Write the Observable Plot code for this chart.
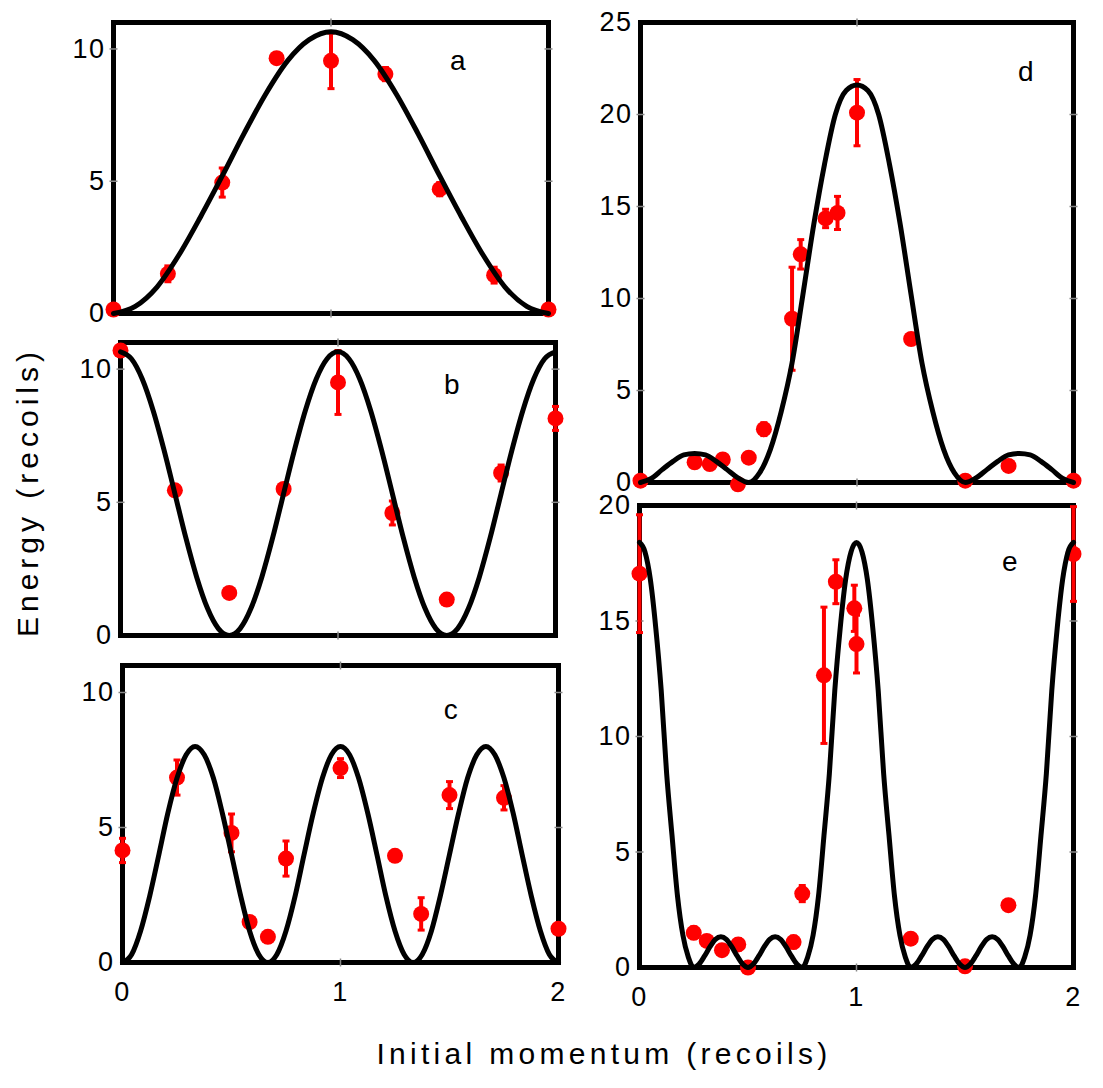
<!DOCTYPE html>
<html><head><meta charset="utf-8">
<script src="https://cdn.jsdelivr.net/npm/d3@7"></script>
<script src="https://cdn.jsdelivr.net/npm/@observablehq/plot@0.6"></script>
<style>
html,body{margin:0;padding:0;background:#fff;}
#fig{position:relative;width:1103px;height:1088px;overflow:hidden;font-family:"Liberation Sans",Arial,sans-serif;}
#fig svg{position:absolute;left:0;top:0;}
</style></head><body><div id="fig"></div>
<script>
// ---------- data ----------
const xTicks = [0, 1, 2];
const yTicksSmall = [0, 5, 10];
const yTicksD = [0, 5, 10, 15, 20, 25];
const yTicksE = [0, 5, 10, 15, 20];
const panelLabels = ["a", "b", "c", "d", "e"];

// measured points (x, energy, error half-width)
const aX = [0, 0.25, 0.5, 0.75, 1.0, 1.25, 1.5, 1.75, 2.0];
const aY = [0.15, 1.5, 4.95, 9.65, 9.55, 9.05, 4.7, 1.45, 0.15];
const aErr = [0, 0.3, 0.55, 0.2, 1.05, 0.25, 0.25, 0.3, 0];

const bX = [0, 0.25, 0.5, 0.75, 1.0, 1.25, 1.5, 1.75, 2.0];
const bY = [10.7, 5.45, 1.6, 5.5, 9.5, 4.6, 1.35, 6.1, 8.15];
const bErr = [0.2, 0.2, 0, 0.2, 1.2, 0.45, 0, 0.3, 0.45];

const cX = [0, 0.25, 0.5, 0.583, 0.667, 0.75, 1.0, 1.25, 1.37, 1.5, 1.75, 2.0];
const cY = [4.15, 6.85, 4.8, 1.5, 0.95, 3.85, 7.2, 3.95, 1.8, 6.2, 6.1, 1.25];
const cErr = [0.45, 0.65, 0.7, 0.2, 0.2, 0.65, 0.35, 0.2, 0.6, 0.5, 0.45, 0.2];

const dX = [0, 0.25, 0.32, 0.38, 0.45, 0.5, 0.57, 0.70, 0.74, 0.855, 0.91, 1.0, 1.25, 1.5, 1.70, 2.0];
const dY = [0.1, 1.1, 1.0, 1.25, -0.1, 1.35, 2.9, 8.9, 12.4, 14.35, 14.65, 20.1, 7.8, 0.1, 0.9, 0.1];
const dErr = [0, 0.2, 0.2, 0.2, 0.2, 0.2, 0.35, 2.8, 0.8, 0.5, 0.9, 1.8, 0.3, 0.2, 0.3, 0.2];

const eX = [0, 0.25, 0.31, 0.38, 0.455, 0.5, 0.71, 0.75, 0.85, 0.905, 0.99, 1.0, 1.25, 1.5, 1.70, 2.0];
const eY = [17.05, 1.5, 1.15, 0.75, 1.0, 0.0, 1.1, 3.2, 12.65, 16.7, 15.55, 14.0, 1.25, 0.05, 2.7, 17.9];
const eErr = [2.55, 0.25, 0.2, 0.2, 0.25, 0.2, 0.25, 0.35, 2.95, 0.95, 1.0, 1.25, 0.2, 0.2, 0.2, 2.05];

// theory curves, values
const aCurveX = [0,0.1,0.2,0.3,0.4,0.5,0.6,0.7,0.8,0.9,1.0,1.1,1.2,1.3,1.4,1.5,1.6,1.7,1.8,1.9,2.0];
const aCurveY = [0,0.27,1.0,2.2,3.65,5.2,6.8,8.3,9.55,10.35,10.65,10.35,9.55,8.3,6.8,5.2,3.65,2.2,1.0,0.27,0];

const bCurveX = [0,0.05,0.1,0.15,0.2,0.25,0.3,0.35,0.4,0.45,0.5,0.55,0.6,0.65,0.7,0.75,0.8,0.85,0.9,0.95,1.0,
                 1.05,1.1,1.15,1.2,1.25,1.3,1.35,1.4,1.45,1.5,1.55,1.6,1.65,1.7,1.75,1.8,1.85,1.9,1.95,2.0];
const bCurveY = [10.65,10.39,9.63,8.45,6.97,5.33,3.68,2.2,1.02,0.26,0,0.26,1.02,2.2,3.68,5.33,6.97,8.45,9.63,10.39,10.65,
                 10.39,9.63,8.45,6.97,5.33,3.68,2.2,1.02,0.26,0,0.26,1.02,2.2,3.68,5.33,6.97,8.45,9.63,10.39,10.65];

const cCurveX = [0,0.042,0.083,0.125,0.167,0.208,0.25,0.292,0.333,0.375,0.417,0.458,0.5,0.542,0.583,0.625,0.667,
                 0.708,0.75,0.792,0.833,0.875,0.917,0.958,1.0,1.042,1.083,1.125,1.167,1.208,1.25,1.292,1.333,
                 1.375,1.417,1.458,1.5,1.542,1.583,1.625,1.667,1.708,1.75,1.792,1.833,1.875,1.917,1.958,2.0];
const cCurveY = [0,0.3,1.17,2.47,4.0,5.53,6.83,7.69,8.0,7.69,6.83,5.53,4.0,2.47,1.17,0.3,0,
                 0.3,1.17,2.47,4.0,5.53,6.83,7.69,8.0,7.69,6.83,5.53,4.0,2.47,1.17,0.3,0,
                 0.3,1.17,2.47,4.0,5.53,6.83,7.69,8.0,7.69,6.83,5.53,4.0,2.47,1.17,0.3,0];

const dCurveX = bCurveX;
const dCurveY = [0,0.22,0.7,1.15,1.5,1.58,1.5,1.15,0.7,0.25,0,0.52,1.8,3.85,6.5,10.2,14.0,17.3,20.0,21.3,21.6,
                 21.3,20.0,17.3,14.0,10.2,6.5,3.85,1.8,0.52,0,0.25,0.7,1.15,1.5,1.58,1.5,1.15,0.7,0.22,0];

const eCurveX = [0,0.025,0.05,0.075,0.1,0.125,0.15,0.175,0.2,0.225,0.25,0.275,0.3,0.325,0.35,0.375,0.4,0.425,0.45,0.475,
                 0.5,0.525,0.55,0.575,0.6,0.625,0.65,0.675,0.7,0.725,0.75,0.775,0.8,0.825,0.85,0.875,0.9,0.925,0.95,0.975,
                 1.0,1.025,1.05,1.075,1.1,1.125,1.15,1.175,1.2,1.225,1.25,1.275,1.3,1.325,1.35,1.375,1.4,1.425,1.45,1.475,
                 1.5,1.525,1.55,1.575,1.6,1.625,1.65,1.675,1.7,1.725,1.75,1.775,1.8,1.825,1.85,1.875,1.9,1.925,1.95,1.975,2.0];
const eCurveY = [18.4,18.0,16.8,14.7,12.0,8.4,5.7,3.1,1.4,0.45,0,0.15,0.5,0.9,1.22,1.33,1.22,0.9,0.5,0.15,
                 0,0.15,0.5,0.9,1.22,1.33,1.22,0.9,0.5,0.15,0,0.45,1.4,3.1,5.7,8.4,12.0,14.7,16.8,18.0,
                 18.4,18.0,16.8,14.7,12.0,8.4,5.7,3.1,1.4,0.45,0,0.15,0.5,0.9,1.22,1.33,1.22,0.9,0.5,0.15,
                 0,0.15,0.5,0.9,1.22,1.33,1.22,0.9,0.5,0.15,0,0.45,1.4,3.1,5.7,8.4,12.0,14.7,16.8,18.0,18.4];

// ---------- layout ----------
const W = 1103, H = 1088;
const FONT = '"Liberation Sans", Arial, Helvetica, sans-serif';
const hline = {draw(ctx, size){const r = Math.sqrt(size/Math.PI); ctx.moveTo(-r,0); ctx.lineTo(r,0);}};
const vline = {draw(ctx, size){const r = Math.sqrt(size/Math.PI); ctx.moveTo(0,-r); ctx.lineTo(0,r);}};

const panels = [
  {label: panelLabels[0], px: aX, py: aY, pe: aErr, cx: aCurveX, cy: aCurveY, yDomain: [0, 11], yTicks: yTicksSmall,
   box: [113, 548, 22, 313], xAxis: false, ldx: -90, ldy: 28},
  {label: panelLabels[1], px: bX, py: bY, pe: bErr, cx: bCurveX, cy: bCurveY, yDomain: [0, 11], yTicks: yTicksSmall,
   box: [120, 555, 342, 635], xAxis: false, ldx: -103, ldy: 32},
  {label: panelLabels[2], px: cX, py: cY, pe: cErr, cx: cCurveX, cy: cCurveY, yDomain: [0, 11], yTicks: yTicksSmall,
   box: [122, 558, 665, 962], xAxis: true, ldx: -107, ldy: 34},
  {label: panelLabels[3], px: dX, py: dY, pe: dErr, cx: dCurveX, cy: dCurveY, yDomain: [0, 25], yTicks: yTicksD,
   box: [640, 1073, 22, 482], xAxis: false, ldx: -47, ldy: 39},
  {label: panelLabels[4], px: eX, py: eY, pe: eErr, cx: eCurveX, cy: eCurveY, yDomain: [0, 20], yTicks: yTicksE,
   box: [639, 1073, 505, 967], xAxis: true, ldx: -63, ldy: 46}
];

function panel(cfg){
  const pts = cfg.px.map((x, i) => ({x, y: cfg.py[i], e: cfg.pe[i]}));
  const errs = pts.filter(d => d.e > 0);
  const line = cfg.cx.map((x, i) => ({x, y: cfg.cy[i]}));
  const innerY = cfg.yTicks.filter(t => t > cfg.yDomain[0] && t < cfg.yDomain[1]);
  const innerX = xTicks.filter(t => t > 0 && t < 2);
  const tickStyle = {r: 4, stroke: "#888", strokeWidth: 1.5, fill: "none"};
  return Plot.plot({
    width: W, height: H,
    marginLeft: cfg.box[0], marginRight: W - cfg.box[1],
    marginTop: cfg.box[2], marginBottom: H - cfg.box[3],
    style: {background: "transparent", fontFamily: FONT, fontSize: "27px", letterSpacing: "1.5px", color: "black", overflow: "visible"},
    x: cfg.xAxis
      ? {domain: [0, 2], ticks: xTicks, tickSize: 0, tickPadding: 19, label: null, tickFormat: d => String(d)}
      : {domain: [0, 2], axis: null},
    y: {domain: cfg.yDomain, ticks: cfg.yTicks, tickSize: 0, tickPadding: 8, label: null, tickFormat: d => String(d)},
    marks: [
      Plot.frame({stroke: "black", strokeWidth: 5}),
      Plot.dot(innerY, {y: d => d, frameAnchor: "left", symbol: hline, ...tickStyle}),
      Plot.dot(innerY, {y: d => d, frameAnchor: "right", symbol: hline, ...tickStyle}),
      Plot.dot(innerX, {x: d => d, frameAnchor: "top", symbol: vline, ...tickStyle}),
      Plot.dot(innerX, {x: d => d, frameAnchor: "bottom", symbol: vline, ...tickStyle}),
      Plot.ruleX(errs, {x: "x", y1: d => d.y - d.e, y2: d => d.y + d.e, stroke: "red", strokeWidth: 4}),
      Plot.dot(errs, {x: "x", y: d => d.y + d.e, symbol: hline, r: 3.5, stroke: "red", strokeWidth: 3, fill: "none"}),
      Plot.dot(errs, {x: "x", y: d => d.y - d.e, symbol: hline, r: 3.5, stroke: "red", strokeWidth: 3, fill: "none"}),
      Plot.dot(pts, {x: "x", y: "y", r: 8, fill: "red", stroke: "none"}),
      Plot.line(line, {x: "x", y: "y", stroke: "black", strokeWidth: 5, curve: "monotone-x"}),
      Plot.text([cfg.label], {text: d => d, frameAnchor: "top-right", dx: cfg.ldx, dy: cfg.ldy,
                              fontSize: 28, fill: "black", textAnchor: "middle"})
    ]
  });
}

const fig = document.getElementById("fig");
for (const cfg of panels) fig.appendChild(panel(cfg));

// axis titles
const ns = "http://www.w3.org/2000/svg";
const over = document.createElementNS(ns, "svg");
over.setAttribute("width", W); over.setAttribute("height", H);
over.style.overflow = "visible";
function addText(str, transform, spacing){
  const t = document.createElementNS(ns, "text");
  t.textContent = str;
  t.setAttribute("transform", transform);
  t.setAttribute("text-anchor", "middle");
  t.setAttribute("font-family", FONT);
  t.setAttribute("font-size", "30");
  t.setAttribute("letter-spacing", spacing);
  t.setAttribute("fill", "black");
  over.appendChild(t);
}
addText("Energy (recoils)", "translate(38,492) rotate(-90)", "5");
addText("Initial momentum (recoils)", "translate(604,1064)", "4.3");
fig.appendChild(over);
</script>
</body></html>
